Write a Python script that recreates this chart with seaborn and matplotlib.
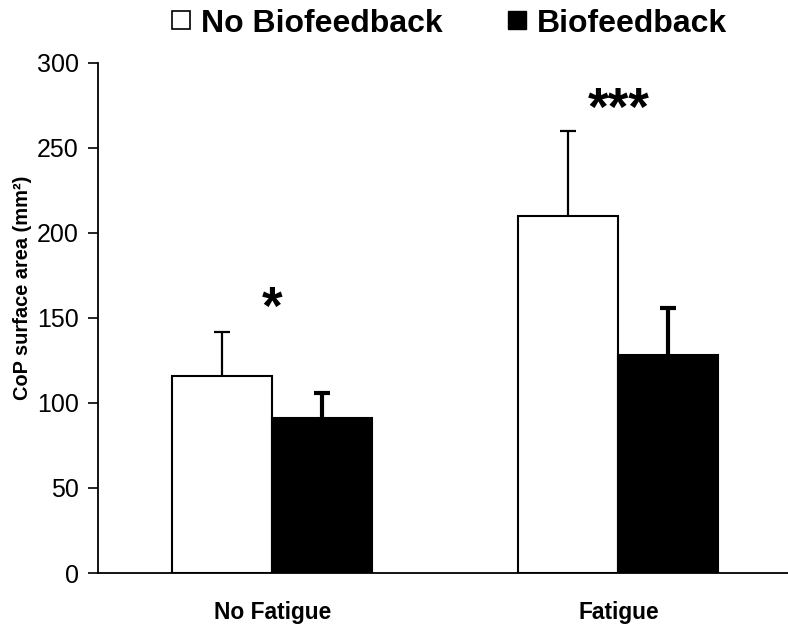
import pandas as pd
import matplotlib
matplotlib.use("Agg")
import matplotlib.pyplot as plt
from matplotlib.lines import Line2D
import seaborn as sns

# data
conditions = ["No Fatigue", "Fatigue"]
groups = ["No Biofeedback", "Biofeedback"]
no_bio_mean = [116, 210]
no_bio_sd = [26, 50]
bio_mean = [91, 128]
bio_sd = [15, 28]
stars = ["*", "***"]
star_y = [155, 272]

df = pd.DataFrame({
    "condition": conditions * 2,
    "group": [groups[0]] * 2 + [groups[1]] * 2,
    "area": no_bio_mean + bio_mean,
})

sns.set_style("white")
plt.rcParams["font.family"] = ["Liberation Sans", "DejaVu Sans"]
plt.rcParams["text.color"] = "black"
plt.rcParams["axes.labelcolor"] = "black"
plt.rcParams["xtick.color"] = "black"
plt.rcParams["ytick.color"] = "black"

fig = plt.figure(figsize=(7.88, 6.29), dpi=100)
ax = fig.add_axes([0.1244, 0.089, 0.8756, 0.811])

sns.barplot(data=df, x="condition", y="area", hue="group", order=conditions,
            hue_order=groups, palette=["white", "black"], edgecolor="black",
            linewidth=1.5, width=0.578, errorbar=None, legend=False, ax=ax)

# upper-only error bars, placed on the seaborn bar centres
for patch_group, sds, lw in [(ax.patches[:2], no_bio_sd, 1.6), (ax.patches[2:4], bio_sd, 3)]:
    xs = [p.get_x() + p.get_width() / 2 for p in patch_group]
    ys = [p.get_height() for p in patch_group]
    eb = ax.errorbar(xs, ys, yerr=[[0] * len(sds), sds], fmt="none", ecolor="black",
                     elinewidth=lw, capsize=5.5, capthick=lw, zorder=1)
    eb[1][0].set_visible(False)  # drop the lower cap

for i, s in enumerate(stars):
    ax.text(i, star_y[i], s, ha="center", va="center", fontsize=38, fontweight="bold")

ax.set_xlim(-0.503, 1.49)
ax.set_ylim(0, 300)
ax.set_yticks(range(0, 301, 50))
ax.set_xlabel("")
ax.set_ylabel("CoP surface area (mm²)", fontsize=14.4, fontweight="bold")
ax.yaxis.set_label_coords(-0.096, 0.56)
ax.tick_params(axis="y", direction="out", length=7, width=1.2, left=True, labelsize=18, pad=7)
ax.tick_params(axis="x", length=0, labelsize=16.4, pad=20)
for lab in ax.get_xticklabels():
    lab.set_fontweight("bold")
sns.despine(ax=ax)
for sp in ["left", "bottom"]:
    ax.spines[sp].set_color("black")
    ax.spines[sp].set_linewidth(1.3)

handles = [
    Line2D([], [], marker="s", linestyle="none", markersize=12.5, markerfacecolor="white",
           markeredgecolor="black", markeredgewidth=1.2),
    Line2D([], [], marker="s", linestyle="none", markersize=12.5, markerfacecolor="black",
           markeredgecolor="black"),
]
fig.legend(handles, groups, loc="upper center", bbox_to_anchor=(0.566, 1.032), ncol=2,
           frameon=False, handletextpad=0.1, columnspacing=1.85, handlelength=1.0,
           prop={"size": 23, "weight": "bold"})

fig.savefig("out.png", dpi=100)
